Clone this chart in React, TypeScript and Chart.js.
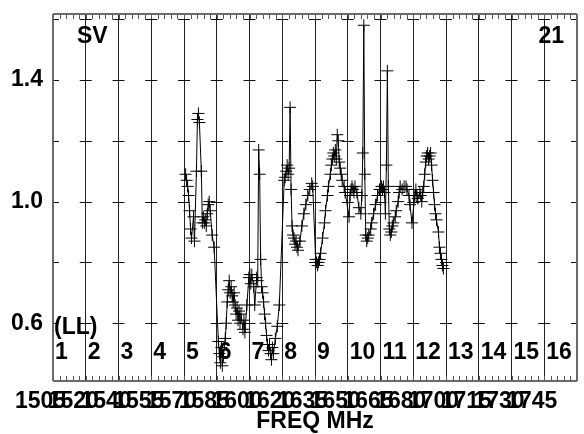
import React, { useEffect, useRef } from 'react';
import { Chart, registerables } from 'chart.js';

Chart.register(...registerables);

// x tick labels (one per band boundary), band numbers and corner texts
const freqLabels = ['1505', '1520', '1540', '1555', '1570', '1585', '1600', '1620', '1635', '1650', '1665', '1680', '1700', '1715', '1730', '1745'];
const bandNumbers = ['1', '2', '3', '4', '5', '6', '7', '8', '9', '10', '11', '12', '13', '14', '15', '16'];
const yTickValues = [0.6, 0.8, 1.0, 1.2, 1.4, 1.6];
const yLabelValues = [0.6, 1.0, 1.4];
const stokesLabel = 'SV';
const polLabel = '(LL)';
const sourceLabel = '21';
const xTitle = 'FREQ MHz';

// channel positions (in band units) and SV values, per band
const band5X = [4.05, 4.08, 4.11, 4.14, 4.17, 4.20, 4.23, 4.29, 4.32, 4.38, 4.41, 4.44, 4.47, 4.53, 4.56, 4.59, 4.62, 4.65, 4.68, 4.71, 4.74, 4.77, 4.80, 4.86, 4.92];
const band5Y = [1.09, 1.07, 1.05, 1.02, 0.97, 0.91, 0.88, 0.95, 0.87, 1.10, 1.27, 1.29, 1.26, 1.10, 0.93, 0.95, 0.93, 0.94, 0.92, 0.96, 0.99, 1.00, 0.97, 0.89, 0.85];

const band6X = [5.05, 5.08, 5.11, 5.14, 5.17, 5.20, 5.26, 5.29, 5.32, 5.35, 5.38, 5.41, 5.44, 5.47, 5.50, 5.53, 5.56, 5.59, 5.62, 5.65, 5.68, 5.71, 5.74, 5.80, 5.83, 5.86, 5.92];
const band6Y = [0.54, 0.50, 0.47, 0.52, 0.46, 0.49, 0.55, 0.60, 0.67, 0.71, 0.74, 0.70, 0.72, 0.69, 0.67, 0.70, 0.66, 0.63, 0.65, 0.61, 0.64, 0.60, 0.63, 0.58, 0.61, 0.57, 0.66];

const band7X = [5.98, 6.01, 6.04, 6.07, 6.13, 6.16, 6.22, 6.25, 6.28, 6.31, 6.34, 6.37, 6.40, 6.43, 6.46, 6.49, 6.52, 6.55, 6.58, 6.61, 6.64, 6.67, 6.70, 6.73, 6.79, 6.85, 6.91];
const band7Y = [0.75, 0.76, 0.73, 0.76, 0.72, 0.66, 0.75, 0.74, 1.17, 1.09, 0.81, 0.72, 0.70, 0.67, 0.63, 0.60, 0.56, 0.53, 0.51, 0.53, 0.50, 0.48, 0.52, 0.50, 0.55, 0.59, 0.66];

const band8X = [7.06, 7.09, 7.12, 7.15, 7.18, 7.21, 7.24, 7.27, 7.30, 7.33, 7.36, 7.39, 7.42, 7.45, 7.48, 7.54, 7.60, 7.66, 7.72, 7.78, 7.84, 7.90, 7.93];
const band8Y = [1.07, 1.08, 1.10, 1.12, 1.09, 1.11, 1.31, 1.04, 0.92, 0.89, 0.88, 0.86, 0.87, 0.85, 0.84, 0.87, 0.92, 0.96, 0.99, 1.02, 1.04, 1.06, 1.05];

const band9X = [8.02, 8.05, 8.08, 8.11, 8.14, 8.17, 8.23, 8.29, 8.32, 8.38, 8.41, 8.47, 8.50, 8.53, 8.56, 8.59, 8.62, 8.65, 8.68, 8.71, 8.74, 8.77, 8.80, 8.83, 8.89, 8.92];
const band9Y = [0.81, 0.80, 0.79, 0.80, 0.81, 0.83, 0.88, 0.93, 0.97, 1.02, 1.05, 1.09, 1.12, 1.14, 1.16, 1.15, 1.17, 1.14, 1.22, 1.20, 1.13, 1.11, 1.09, 1.07, 1.05, 1.03];

const band10X = [9.04, 9.07, 9.10, 9.13, 9.16, 9.19, 9.22, 9.28, 9.34, 9.40, 9.43, 9.46, 9.49, 9.52, 9.55, 9.58, 9.61, 9.64, 9.70, 9.73, 9.79, 9.85, 9.91, 9.97];
const band10Y = [0.95, 1.02, 1.04, 1.05, 1.04, 1.03, 1.05, 1.03, 0.98, 0.96, 1.02, 1.16, 1.58, 1.09, 0.89, 0.87, 0.88, 0.89, 0.91, 0.93, 0.96, 0.99, 1.02, 1.04];

const band11X = [10.03, 10.06, 10.09, 10.12, 10.15, 10.18, 10.21, 10.24, 10.27, 10.30, 10.33, 10.36, 10.39, 10.45, 10.48, 10.54, 10.57, 10.60, 10.66, 10.72, 10.78, 10.81, 10.87, 10.90, 10.96];
const band11Y = [1.05, 1.04, 1.05, 1.03, 0.96, 1.12, 1.43, 1.05, 0.91, 0.89, 0.90, 0.92, 0.93, 0.95, 0.97, 1.00, 1.03, 1.05, 1.04, 1.05, 1.05, 1.04, 1.02, 0.99, 0.93];

const band12X = [11.05, 11.08, 11.11, 11.14, 11.20, 11.23, 11.26, 11.29, 11.32, 11.35, 11.38, 11.41, 11.44, 11.47, 11.50, 11.53, 11.56, 11.59, 11.62, 11.65, 11.68, 11.71, 11.77, 11.80, 11.83, 11.86, 11.89, 11.92];
const band12Y = [1.02, 1.04, 1.02, 1.01, 1.03, 1.02, 1.00, 1.03, 1.05, 1.09, 1.13, 1.15, 1.16, 1.14, 1.15, 1.16, 1.12, 1.07, 1.03, 0.99, 0.96, 0.94, 0.90, 0.85, 0.83, 0.81, 0.79, 0.78];

const allX = [...band5X, ...band6X, ...band7X, ...band8X, ...band9X, ...band10X, ...band11X, ...band12X];
const allY = [...band5Y, ...band6Y, ...band7Y, ...band8Y, ...band9Y, ...band10Y, ...band11Y, ...band12Y];

const FONT_FAMILY = '"Liberation Sans", Arial, Helvetica, sans-serif';
const FONT = { family: FONT_FAMILY, size: 23, weight: 'bold' as const };

const framePlugin = {
  id: 'frame',
  beforeDatasetsDraw(chart: any) {
    const { ctx, chartArea, scales } = chart;
    const xs = scales.x;
    const ys = scales.y;
    const { left, right, top, bottom } = chartArea;
    ctx.save();
    // minor ticks on top and bottom axes
    ctx.strokeStyle = '#555';
    ctx.lineWidth = 1;
    ctx.beginPath();
    for (let i = 0; i <= 80; i++) {
      const px = Math.round(xs.getPixelForValue(i / 5)) + 0.5;
      ctx.moveTo(px, top);
      ctx.lineTo(px, top + 5);
      ctx.moveTo(px, bottom);
      ctx.lineTo(px, bottom - 5);
    }
    ctx.stroke();
    // y tick marks at each band line
    ctx.strokeStyle = '#111';
    ctx.beginPath();
    for (let k = 0; k <= 16; k++) {
      const px = xs.getPixelForValue(k);
      for (const v of yTickValues) {
        const py = Math.round(ys.getPixelForValue(v)) + 0.5;
        ctx.moveTo(Math.max(left, px - 6), py);
        ctx.lineTo(Math.min(right, px + 6), py);
      }
    }
    ctx.stroke();
    // frame lines
    ctx.strokeStyle = '#6a6a6a';
    ctx.lineWidth = 2;
    ctx.beginPath();
    ctx.moveTo(left, top);
    ctx.lineTo(right, top);
    ctx.moveTo(left, top);
    ctx.lineTo(left, bottom);
    ctx.moveTo(left, bottom);
    ctx.lineTo(right, bottom);
    ctx.moveTo(right, top);
    ctx.lineTo(right, bottom);
    ctx.stroke();
    ctx.restore();
  },
  afterDraw(chart: any) {
    const { ctx, scales } = chart;
    const xs = scales.x;
    ctx.save();
    ctx.fillStyle = '#000';
    ctx.font = `bold 23px ${FONT_FAMILY}`;
    ctx.textBaseline = 'middle';
    ctx.textAlign = 'left';
    ctx.fillText(stokesLabel, 77, 37);
    ctx.fillText(polLabel, 54, 328);
    ctx.textAlign = 'right';
    ctx.fillText(sourceLabel, 564, 37);
    ctx.textAlign = 'left';
    bandNumbers.forEach((b, k) => {
      ctx.fillText(b, xs.getPixelForValue(k) + 2, 353);
    });
    ctx.restore();
  },
};

export default function App() {
  const ref = useRef<HTMLCanvasElement | null>(null);
  useEffect(() => {
    const canvas = ref.current;
    if (!canvas) return;
    const points = allX.map((x, i) => ({ x, y: allY[i] }));
    const chart = new Chart(canvas, {
      type: 'line',
      data: {
        datasets: [
          {
            data: points,
            borderColor: '#000',
            borderWidth: 1,
            pointStyle: 'cross',
            pointRadius: 6,
            pointBorderColor: '#000',
            pointBorderWidth: 1,
            pointBackgroundColor: '#000',
            tension: 0,
            fill: false,
          },
        ],
      },
      options: {
        animation: false,
        responsive: false,
        maintainAspectRatio: false,
        layout: { padding: { top: 14, right: -2, left: 0, bottom: 0 } },
        plugins: { legend: { display: false }, tooltip: { enabled: false } },
        scales: {
          x: {
            type: 'linear',
            min: 0,
            max: 16,
            afterBuildTicks: (s: any) => {
              s.ticks = freqLabels.map((_, i) => ({ value: i }));
            },
            afterFit: (s: any) => {
              s.height = 53;
              s.paddingLeft = 0;
              s.paddingRight = 0;
            },
            ticks: {
              autoSkip: false,
              maxRotation: 0,
              minRotation: 0,
              labelOffset: -12.5,
              padding: 7,
              color: '#000',
              font: FONT,
              callback: (_v: any, i: number) => freqLabels[i],
            },
            grid: { drawTicks: false, color: '#222', lineWidth: 1 },
            border: { display: false },
            title: { display: true, text: xTitle, color: '#000', font: FONT, padding: { top: 0, bottom: -1 } },
          },
          y: {
            type: 'linear',
            min: 0.41,
            max: 1.617,
            afterBuildTicks: (s: any) => {
              s.ticks = yTickValues.map((v) => ({ value: v }));
            },
            afterFit: (s: any) => {
              s.width = 53;
              s.paddingTop = 0;
              s.paddingBottom = 0;
            },
            ticks: {
              padding: 10,
              color: '#000',
              font: FONT,
              callback: (v: any) => (yLabelValues.some((l) => Math.abs(l - v) < 1e-6) ? Number(v).toFixed(1) : ''),
            },
            grid: { display: false, drawTicks: false },
            border: { display: false },
          },
        },
      },
      plugins: [framePlugin],
    });
    return () => chart.destroy();
  }, []);
  return (
    <div style={{ position: 'absolute', left: 0, top: 0, width: 584, height: 434, background: '#fff' }}>
      <canvas ref={ref} width={584} height={434} style={{ display: 'block' }} />
    </div>
  );
}
